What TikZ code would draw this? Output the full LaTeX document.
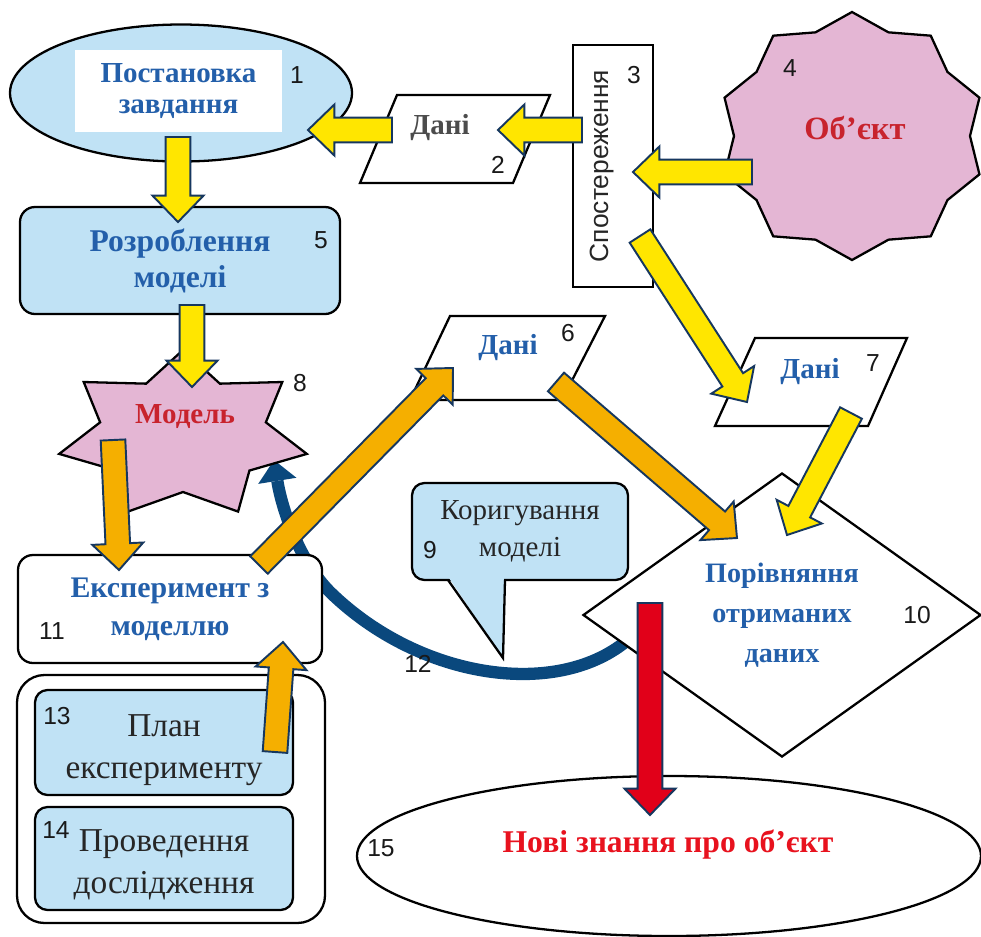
\documentclass[tikz,border=0pt]{standalone}
\usepackage{fontspec}
\setmainfont{Liberation Serif}
\setsansfont{Liberation Sans}
\usetikzlibrary{shapes.geometric,arrows.meta,calc}

\definecolor{paleblue}{RGB}{192,226,245}
\definecolor{pinkfill}{RGB}{228,182,212}
\definecolor{textblue}{RGB}{35,95,170}
\definecolor{darkred}{RGB}{200,35,45}
\definecolor{brightred}{RGB}{232,18,30}
\definecolor{arrowyellow}{RGB}{255,230,0}
\definecolor{arroworange}{RGB}{245,175,0}
\definecolor{arrowred}{RGB}{225,0,25}
\definecolor{edgenavy}{RGB}{22,55,95}
\definecolor{curvenavy}{RGB}{10,72,125}

\newcommand\blockarrow[3]{%
  \coordinate (headbase) at ($(#3)!15pt!(#2)$);
  \draw[blockedge, fill=#1] ($(#2)!7pt!90:(#3)$) -- ($(headbase)!7pt!-90:(#2)$)
    -- ($(headbase)!14.5pt!-90:(#2)$) -- (#3) -- ($(headbase)!14.5pt!90:(#2)$)
    -- ($(headbase)!7pt!90:(#2)$) -- ($(#2)!7pt!-90:(#3)$) -- cycle;}

\begin{document}
\begin{tikzpicture}[x=0.2mm, y=-0.2mm,
    outline/.style={draw=black, line width=1.3pt},
    bluebox/.style={outline, fill=paleblue, rounded corners=3mm},
    whitebox/.style={outline, fill=white, rounded corners=3mm},
    datashape/.style={outline, fill=white, line join=miter},
    pinkstar/.style={outline, fill=pinkfill, line join=miter},
    headtext/.style={font=\bfseries\fontsize{16.5}{18}\selectfont, text=textblue, align=center},
    plaintext/.style={font=\fontsize{19}{23.8}\selectfont, text=black!85, align=center},
    num/.style={font=\sffamily\fontsize{14}{14}\selectfont, text=black!90},
    blockedge/.style={draw=edgenavy, line width=1.1pt, line join=miter},
    corrarrow/.style={draw=curvenavy, line width=7pt, -{Triangle[length=12pt, width=22pt, line width=0pt]}}
  ]
  \useasboundingbox (0,0) rectangle (981,936);

  \coordinate (corrstart) at (630,638);
  \coordinate (corrmid) at (330,592);
  \coordinate (corrend) at (274,460);
  \draw[corrarrow] (corrstart) .. controls (560,700) and (420,680) .. (corrmid)
    .. controls (300,562) and (282,510) .. (corrend);

  \node[ellipse, outline, fill=paleblue, minimum width=68.4mm, minimum height=27.4mm, inner sep=0pt] (taskoval) at (181,93) {};
  \node[fill=white, minimum width=41.4mm, minimum height=16.4mm, headtext] (task) at (178.5,91) {Постановка\\завдання};

  \node[outline, fill=white, minimum width=16mm, minimum height=48.4mm] (observe) at (613,166) {};
  \node[rotate=90, font=\sffamily\fontsize{15}{15}\selectfont, text=black!85] (observetext) at (602,166) {Спостереження};

  \draw[pinkstar, shift={(852,136)}] plot[samples at={0,...,19}, variable=\k]
    ({-90+18*\k}:{mod(\k,2)==0 ? 134 : 118} and {mod(\k,2)==0 ? 124 : 109}) -- cycle;
  \node[font=\bfseries\fontsize{18.5}{18.5}\selectfont, text=darkred] (object) at (855,128) {Об’єкт};

  \node[bluebox, minimum width=64mm, minimum height=21.4mm, headtext, font=\bfseries\fontsize{18}{20.4}\selectfont] (develop) at (180,260.5) {Розроблення\\моделі};

  \draw[pinkstar, shift={(183,435)}] plot[samples at={0,...,13}, variable=\k]
    ({-90+360/14*\k}:{mod(\k,2)==0 ? 127 : 85} and {mod(\k,2)==0 ? 85 : 57}) -- cycle;
  \node[font=\bfseries\fontsize{16.5}{16.5}\selectfont, text=darkred] (model) at (185,417) {Модель};

  \draw[datashape] (397,95) -- (550,95) -- (513,183) -- (360,183) -- cycle;
  \node[font=\bfseries\fontsize{16.5}{16.5}\selectfont, text=black!70] (data1) at (440,128) {Дані};
  \draw[datashape] (450,316) -- (605,316) -- (562,400) -- (410,400) -- cycle;
  \node[headtext] (data2) at (508,348) {Дані};
  \draw[datashape] (755,338) -- (907,338) -- (868,426) -- (715,426) -- cycle;
  \node[headtext] (data3) at (810,372) {Дані};

  \node[whitebox, minimum width=60.8mm, minimum height=21.6mm, headtext, font=\bfseries\fontsize{17}{21.5}\selectfont] (experiment) at (170,609) {Експеримент з\\моделлю};

  \node[outline, fill=white, rounded corners=5.5mm, minimum width=61.6mm, minimum height=49.6mm] (stages) at (171,799) {};
  \node[bluebox, rounded corners=2.5mm, minimum width=51.6mm, minimum height=21mm] (plan) at (164,742.5) {};
  \node[plaintext] (plantext) at (164,750) {План\\експерименту};
  \node[bluebox, rounded corners=2.5mm, minimum width=51.6mm, minimum height=20.6mm] (conduct) at (164,858.5) {};
  \node[plaintext] (conducttext) at (164,865) {Проведення\\дослідження};

  \node[diamond, outline, fill=white, minimum width=79.6mm, minimum height=56.8mm, inner sep=0pt, aspect=1.4, headtext, font=\bfseries\fontsize{16}{22.7}\selectfont] (compare) at (782,615) {Порівняння\\отриманих\\даних};

  \node[ellipse, outline, fill=white, minimum width=124.8mm, minimum height=32mm, inner sep=0pt] (knowledge) at (669,856) {};
  \node[font=\bfseries\fontsize{18}{18}\selectfont, text=brightred] (newknow) at (668,845) {Нові знання про об’єкт};

  \node[bluebox, rounded corners=2.5mm, minimum width=43.2mm, minimum height=19.4mm, font=\fontsize{16.5}{21}\selectfont, text=black!85, align=center] (fix) at (520,531.5) {Коригування\\моделі};
  \coordinate (fixtip) at (503,658);
  \fill[paleblue] (449,578) -- (504,578) -- (fixtip) -- cycle;
  \draw[outline, line join=miter] (448,580) -- (fixtip) -- (505,580);

  \foreach \t/\x/\y in {1/297/75, 2/498/165, 3/634/75, 4/790/68, 5/321/240, 6/568/333, 7/873/363, 8/300/383,
      9/430/550, 10/917/615, 11/52/631, 12/418/664, 13/57/716, 14/56/830, 15/381/848}
    \node[num] (n\t) at (\x,\y) {\t};

  \coordinate (y1a) at (392,130);  \coordinate (y1b) at (308,130);
  \coordinate (y2a) at (582,130);  \coordinate (y2b) at (498,130);
  \coordinate (y3a) at (752,172);  \coordinate (y3b) at (633,172);
  \coordinate (y4a) at (178,137);  \coordinate (y4b) at (178,222);
  \coordinate (y5a) at (192,305);  \coordinate (y5b) at (192,387);
  \coordinate (y6a) at (640,236);  \coordinate (y6b) at (747,402);
  \coordinate (y7a) at (851,413);  \coordinate (y7b) at (787,535);
  \coordinate (o1a) at (113,440);  \coordinate (o1b) at (119,570);
  \coordinate (o2a) at (275,752);  \coordinate (o2b) at (283,642);
  \coordinate (o3a) at (259,565);  \coordinate (o3b) at (453,368);
  \coordinate (o4a) at (556,382);  \coordinate (o4b) at (737,538);
  \coordinate (ra) at (650,603);   \coordinate (rb) at (650,815);

  \blockarrow{arrowyellow}{y1a}{y1b}
  \blockarrow{arrowyellow}{y2a}{y2b}
  \blockarrow{arrowyellow}{y3a}{y3b}
  \blockarrow{arrowyellow}{y4a}{y4b}
  \blockarrow{arrowyellow}{y5a}{y5b}
  \blockarrow{arrowyellow}{y6a}{y6b}
  \blockarrow{arrowyellow}{y7a}{y7b}
  \blockarrow{arroworange}{o1a}{o1b}
  \blockarrow{arroworange}{o2a}{o2b}
  \blockarrow{arroworange}{o3a}{o3b}
  \blockarrow{arroworange}{o4a}{o4b}
  \blockarrow{arrowred}{ra}{rb}
\end{tikzpicture}
\end{document}
